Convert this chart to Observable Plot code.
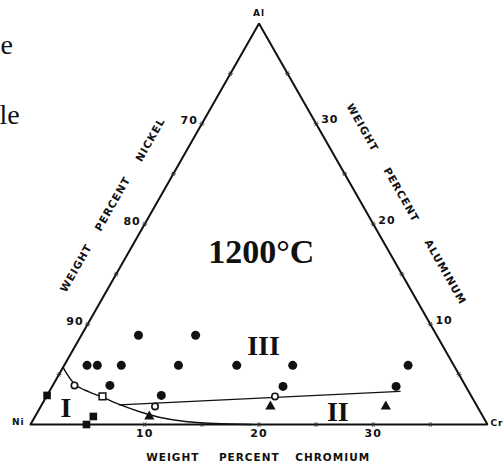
<!DOCTYPE html>
<html><head><meta charset="utf-8">
<script src="https://cdn.jsdelivr.net/npm/d3@7"></script>
<script src="https://cdn.jsdelivr.net/npm/@observablehq/plot@0.6"></script>
<style>
body{margin:0;background:#fff}
svg{display:block}
g[font-family*="DejaVu"]{letter-spacing:1px}
</style>
</head><body><div id="chart"></div>
<script>
// Ternary Ni-Cr-Al section, values as [Cr wt%, Al wt%] (Ni = balance)
const filledCircles = [[5,8.9],[10,8.9],[2,5.9],[2.9,5.9],[5,5.9],[10,5.9],[15.1,5.9],[20,5.9],[30.1,5.9],[5,3.9],[10,2.9],[20.2,3.8],[30.1,3.8]];
const openCircles = [[1.9,3.9],[10,1.8],[20,2.8]];
const openSquares = [[4.9,2.8]];
const filledSquares = [[0,2.9],[5.1,0.8],[4.9,0]];
const filledTriangles = [[10,0.8],[20.1,1.8],[30.2,1.8]];
const boundaryCurve = [[0,5.7],[1.9,4.0],[3.5,3.25],[5.0,2.7],[6.9,1.95],[9,1.25],[11,0.7],[13.4,0.3],[16.1,0.1],[19.3,0]];
const tieLine = [[6.8,1.95],[30.7,3.3]];
const corners = [[0,0],[40,0],[0,40],[0,0]];
const cornerNames = ["Ni","Cr","Al"];
const regionLabels = ["I","II","III"];
const regionPos = [[2.3,1.6],[26.3,1.2],[16.5,7.8]];
const tempLabel = ["1200°C"];
const tempPos = [[11.6,17.2]];
const tickValues = [5,10,15,20,25,30,35];
const labeledTicks = [10,20,30];
const nickelTickText = ["90","80","70"];
const leftTitleWords = ["WEIGHT","PERCENT","NICKEL"];
const leftTitlePos = [[-3.8,15.6],[-3.8,22.0],[-3.7,28.4]];
const rightTitleWords = ["WEIGHT","PERCENT","ALUMINUM"];
const rightTitlePos = [[14.25,29.6],[21.0,22.9],[28.7,15.2]];
const bottomTitleWords = ["WEIGHT","PERCENT","CHROMIUM"];
const bottomTitlePos = [[14.1,-3.3],[20.8,-3.3],[28.1,-3.3]];

const tx = p => p[0] + p[1] / 2;
const ty = p => p[1];
const d = 0.22;
const tickSegs = [];
for (const c of tickValues) {
  tickSegs.push([[c,-d],[c,d]], [[c+d,-d],[c-d,d]]);              // base (Cr axis)
  tickSegs.push([[-d,c],[d,c]], [[-d,c+d],[d,c-d]]);              // left edge (Ni)
  tickSegs.push([[40-c-d,c],[40-c+d,c]], [[40-c,c-d],[40-c,c+d]]); // right edge (Al)
}
const link = {x1: s => tx(s[0]), y1: s => ty(s[0]), x2: s => tx(s[1]), y2: s => ty(s[1])};
const lab = (words, pos) => words.map((t, i) => ({t, p: pos[i]}));
const sans = "DejaVu Sans";
const serif = "Liberation Serif, Times New Roman, serif";
const ink = "#111";

const chart = Plot.plot({
  width: 503, height: 469,
  marginLeft: 30, marginRight: 16, marginTop: 23, marginBottom: 45,
  x: {domain: [0, 40], axis: null},
  y: {domain: [0, 40], axis: null},
  style: {background: "#fff"},
  marks: [
    Plot.line(corners, {x: tx, y: ty, stroke: ink, strokeWidth: 2, strokeLinejoin: "miter"}),
    Plot.link(tickSegs, {...link, stroke: "#333", strokeWidth: 0.9}),
    Plot.line(boundaryCurve, {x: tx, y: ty, curve: "catmull-rom", stroke: ink, strokeWidth: 1.4}),
    Plot.line(tieLine, {x: tx, y: ty, stroke: ink, strokeWidth: 1.2}),
    Plot.dot(filledCircles, {x: tx, y: ty, r: 4.5, fill: ink}),
    Plot.dot(openCircles, {x: tx, y: ty, r: 3.2, fill: "#fff", stroke: ink, strokeWidth: 1.6}),
    Plot.dot(openSquares, {x: tx, y: ty, symbol: "square", r: 3.8, fill: "#fff", stroke: ink, strokeWidth: 1.5}),
    Plot.dot(filledSquares, {x: tx, y: ty, symbol: "square", r: 4.3, fill: ink}),
    Plot.dot(filledTriangles, {x: tx, y: ty, symbol: "triangle", r: 3.8, fill: ink}),
    // region labels
    Plot.text(lab(regionLabels, regionPos), {x: d => tx(d.p), y: d => ty(d.p), text: "t", fontSize: 28, fontWeight: "bold", fontFamily: serif, fill: ink, lineAnchor: "middle"}),
    Plot.text(lab(tempLabel, tempPos), {x: d => tx(d.p), y: d => ty(d.p), text: "t", fontSize: 34, fontWeight: "bold", fontFamily: serif, fill: ink, lineAnchor: "middle"}),
    // tick labels
    Plot.text(labeledTicks, {x: c => c, y: 0, text: c => String(c), dy: 9, fontSize: 11, fontWeight: "bold", fontFamily: sans, fill: ink, lineAnchor: "middle"}),
    Plot.text(labeledTicks, {x: a => a / 2, y: a => a, text: (a, i) => nickelTickText[i], dx: -4, dy: -3, textAnchor: "end", fontSize: 11, fontWeight: "bold", fontFamily: sans, fill: ink, lineAnchor: "middle"}),
    Plot.text(labeledTicks, {x: a => 40 - a + a / 2, y: a => a, text: a => String(a), dx: 5, dy: -4, textAnchor: "start", fontSize: 11, fontWeight: "bold", fontFamily: sans, fill: ink, lineAnchor: "middle"}),
    // corner labels
    Plot.text([cornerNames[0]], {x: 0, y: 0, text: t => t, dx: -6, dy: -2, textAnchor: "end", fontSize: 9, fontWeight: "bold", fontFamily: sans, fill: ink, lineAnchor: "middle"}),
    Plot.text([cornerNames[1]], {x: 40, y: 0, text: t => t, dx: 3, dy: -1, textAnchor: "start", fontSize: 9, fontWeight: "bold", fontFamily: sans, fill: ink, lineAnchor: "middle"}),
    Plot.text([cornerNames[2]], {x: 20, y: 40, text: t => t, dy: -10, fontSize: 9, fontWeight: "bold", fontFamily: sans, fill: ink, lineAnchor: "middle"}),
    // axis titles
    Plot.text(lab(leftTitleWords, leftTitlePos), {x: d => tx(d.p), y: d => ty(d.p), text: "t", rotate: -60.3, fontSize: 10.5, fontWeight: "bold", fontFamily: sans, fill: ink, lineAnchor: "middle"}),
    Plot.text(lab(rightTitleWords, rightTitlePos), {x: d => tx(d.p), y: d => ty(d.p), text: "t", rotate: 60.3, fontSize: 10.5, fontWeight: "bold", fontFamily: sans, fill: ink, lineAnchor: "middle"}),
    Plot.text(lab(bottomTitleWords, bottomTitlePos), {x: d => tx(d.p), y: d => ty(d.p), text: "t", fontSize: 10.5, fontWeight: "bold", fontFamily: sans, fill: ink, lineAnchor: "middle"}),
    // cropped page-text fragments at top left
    Plot.text(["e"], {frameAnchor: "top-left", dx: -30, dy: 30, text: t => t, textAnchor: "start", lineAnchor: "bottom", fontSize: 28, fontFamily: serif, fill: ink}),
    Plot.text(["le"], {frameAnchor: "top-left", dx: -31, dy: 100, text: t => t, textAnchor: "start", lineAnchor: "bottom", fontSize: 28, fontFamily: serif, fill: ink})
  ]
});
document.getElementById("chart").append(chart);
</script>
</body></html>
